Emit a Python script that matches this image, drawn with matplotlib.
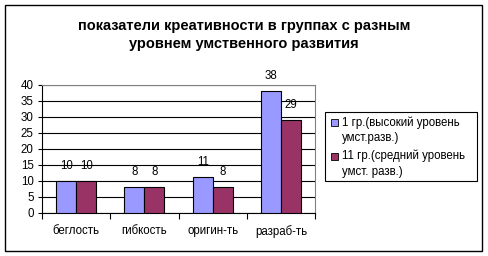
import numpy as np
import matplotlib.pyplot as plt
from matplotlib.patches import Rectangle

plt.rcParams['font.family'] = ['Liberation Sans', 'DejaVu Sans']

categories = ['беглость', 'гибкость', 'оригин-ть', 'разраб-ть']
group1 = [10, 8, 11, 38]
group11 = [10, 8, 8, 29]
labels = ['1 гр.(высокий уровень\nумст.разв.)', '11 гр.(средний уровень\nумст. разв.)']
title = 'показатели креативности в группах с разным\nуровнем умственного развития'

c1 = '#9999FF'
c2 = '#993366'
fs = 8.3

fig = plt.figure(figsize=(4.88, 2.56), dpi=100)
W, H = 488, 256
ax = fig.add_axes([42 / W, 1 - 212.7 / H, 273 / W, 128.2 / H])

x = np.arange(len(categories))
w = 0.293
b1 = ax.bar(x - w / 2, group1, w, color=c1, edgecolor='black', linewidth=0.8, zorder=3)
b2 = ax.bar(x + w / 2, group11, w, color=c2, edgecolor='black', linewidth=0.8, zorder=3)
for bars, vals in ((b1, group1), (b2, group11)):
    for r, v in zip(bars, vals):
        ax.annotate(str(v), (r.get_x() + r.get_width() / 2, v), xytext=(0, 6.5),
                    textcoords='offset points', ha='center', va='bottom', fontsize=fs)

ax.set_xlim(-0.5, 3.5)
ax.set_ylim(0, 40)
ax.set_yticks(range(0, 41, 5))
ax.set_xticks(x)
ax.set_xticklabels(categories, fontsize=fs)
ax.set_xticks(np.arange(-0.5, 4, 1), minor=True)
ax.tick_params(axis='x', which='major', length=0, pad=9)
ax.tick_params(axis='x', which='minor', length=4, width=0.8, direction='out')
ax.tick_params(axis='y', length=3, width=0.8, labelsize=fs, pad=3)
ax.grid(axis='y', color='black', linewidth=0.8, zorder=0)
ax.spines['left'].set_color('black')
ax.spines['bottom'].set_color('black')
ax.spines['right'].set_color('#808080')
ax.spines['top'].set_color('#808080')
for s in ax.spines.values():
    s.set_linewidth(0.8)

fig.text(0.5, 1 - 35 / H, title, ha='center', va='center', fontsize=10.5,
         fontweight='bold', linespacing=1.3)

# legend drawn by hand so the swatch sits on the first text line
tf = fig.transFigure
fig.patches.append(Rectangle((325 / W, 1 - 181 / H), 152 / W, 69 / H, transform=tf,
                             fill=False, edgecolor='black', linewidth=0.8))
for i, (lab, col) in enumerate(zip(labels, (c1, c2))):
    yc = 122.5 + i * 33.5
    fig.patches.append(Rectangle((331 / W, 1 - (yc + 3.5) / H), 7 / W, 7 / H, transform=tf,
                                 facecolor=col, edgecolor='black', linewidth=0.6))
    fig.text(341.5 / W, 1 - (yc - 6) / H, lab, ha='left', va='top', fontsize=fs,
             linespacing=1.35)

fig.patches.append(Rectangle((5 / W, 1 - 251 / H), 477 / W, 246 / H, transform=tf,
                             fill=False, edgecolor='black', linewidth=1))

fig.savefig('out.png', dpi=100)
